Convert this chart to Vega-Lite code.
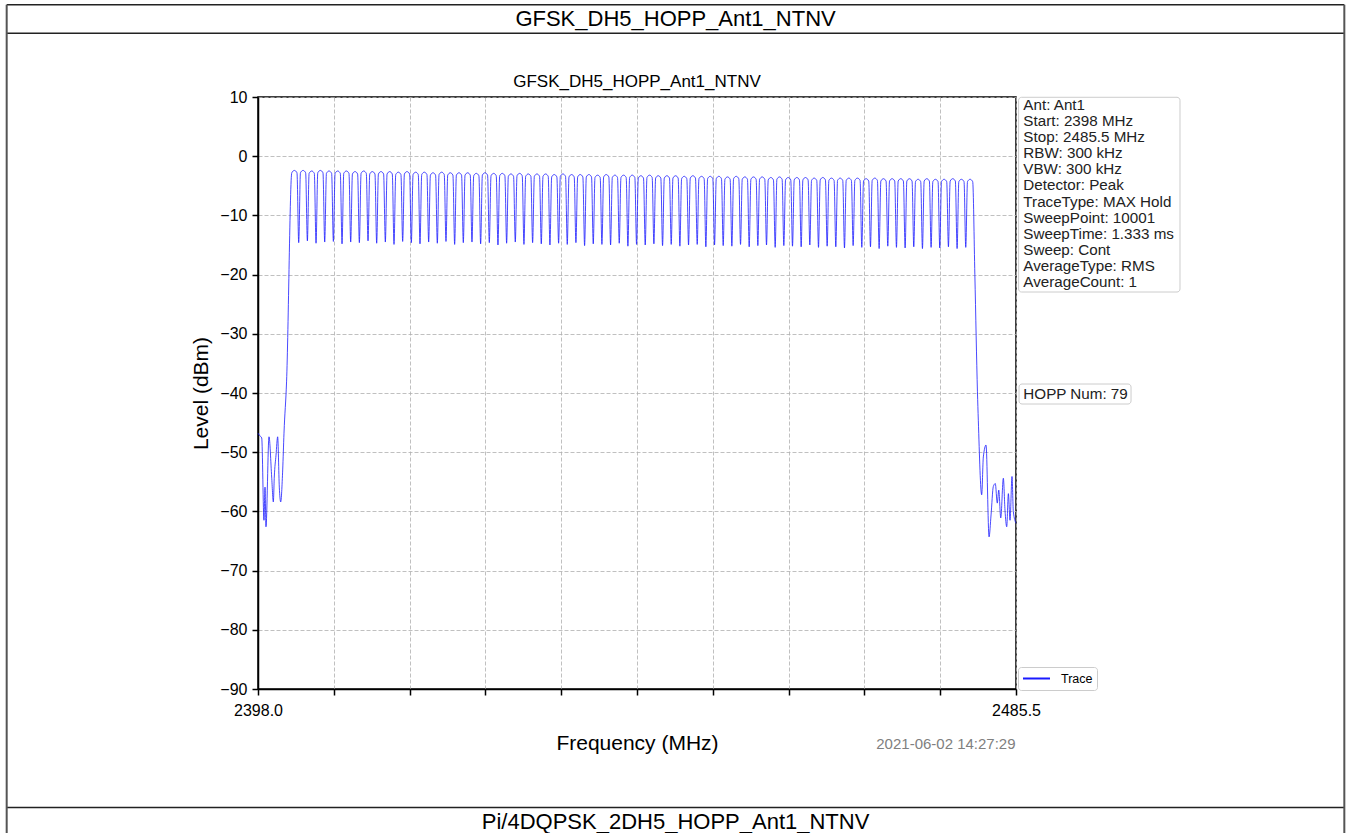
{
  "$schema": "https://vega.github.io/schema/vega-lite/v6.json",
  "autosize": {"type": "none"},
  "padding": {"left": 258, "top": 97, "right": 332, "bottom": 144},
  "width": 758,
  "height": 592,
  "background": "#ffffff",
  "config": {
    "font": "Liberation Sans",
    "view": {"stroke": "#000000", "strokeWidth": 1.5},
    "axis": {
      "domainColor": "#000000", "domainWidth": 1.5,
      "tickColor": "#000000", "tickWidth": 1.5, "tickSize": 6,
      "labelFont": "Liberation Sans", "labelFontSize": 16, "labelColor": "#000000",
      "titleFont": "Liberation Sans", "titleFontSize": 21, "titleFontWeight": "normal", "titleColor": "#000000",
      "gridColor": "#b0b0b0", "gridDash": [4, 2], "gridWidth": 0.8, "gridOpacity": 1
    },
    "legend": {
      "orient": "none", "legendX": 760, "legendY": 570,
      "labelFont": "Liberation Sans", "labelFontSize": 12.5, "labelColor": "#000000", "labelOffset": 10,
      "symbolType": "stroke", "symbolSize": 729, "symbolStrokeWidth": 1.8, "clipHeight": 15,
      "padding": 4, "strokeColor": "#cccccc", "fillColor": "#ffffff", "cornerRadius": 3
    }
  },
  "datasets": {
    "trace": [
      {"f":2398.0,"v":-46.8},{"f":2398.2,"v":-47.2},{"f":2398.43,"v":-47.6},{"f":2398.69,"v":-61.5},{"f":2398.81,"v":-55.9},{"f":2398.92,"v":-62.6},{"f":2399.27,"v":-47.4},{"f":2399.58,"v":-54.2},{"f":2399.77,"v":-58.4},{"f":2399.88,"v":-54.2},{"f":2400.08,"v":-50.5},{"f":2400.27,"v":-47.4},{"f":2400.46,"v":-55.9},{"f":2400.62,"v":-58.4},{"f":2400.85,"v":-53.0},{"f":2401.0,"v":-46.8},{"f":2401.3,"v":-38.0},
      {"f":2401.9,"v":-2.8},{"f":2402.2,"v":-2.4},{"f":2402.5,"v":-2.8},{"f":2402.7,"v":-14.6},
      {"f":2402.9,"v":-2.8},{"f":2403.2,"v":-2.4},{"f":2403.5,"v":-2.8},{"f":2403.7,"v":-14.3},
      {"f":2403.9,"v":-2.9},{"f":2404.2,"v":-2.5},{"f":2404.5,"v":-2.9},{"f":2404.7,"v":-14.7},
      {"f":2404.9,"v":-2.8},{"f":2405.2,"v":-2.4},{"f":2405.5,"v":-2.8},{"f":2405.7,"v":-14.5},
      {"f":2405.9,"v":-2.9},{"f":2406.2,"v":-2.5},{"f":2406.5,"v":-2.9},{"f":2406.7,"v":-14.4},
      {"f":2406.9,"v":-2.9},{"f":2407.2,"v":-2.5},{"f":2407.5,"v":-2.9},{"f":2407.7,"v":-14.8},
      {"f":2407.9,"v":-2.9},{"f":2408.2,"v":-2.5},{"f":2408.5,"v":-2.9},{"f":2408.7,"v":-14.5},
      {"f":2408.9,"v":-3.0},{"f":2409.2,"v":-2.6},{"f":2409.5,"v":-3.0},{"f":2409.7,"v":-14.6},
      {"f":2409.9,"v":-2.9},{"f":2410.2,"v":-2.5},{"f":2410.5,"v":-2.9},{"f":2410.7,"v":-14.3},
      {"f":2410.9,"v":-3.0},{"f":2411.2,"v":-2.6},{"f":2411.5,"v":-3.0},{"f":2411.7,"v":-14.7},
      {"f":2411.9,"v":-3.0},{"f":2412.2,"v":-2.6},{"f":2412.5,"v":-3.0},{"f":2412.7,"v":-14.5},
      {"f":2412.9,"v":-3.0},{"f":2413.2,"v":-2.6},{"f":2413.5,"v":-3.0},{"f":2413.7,"v":-14.9},
      {"f":2413.9,"v":-3.1},{"f":2414.2,"v":-2.7},{"f":2414.5,"v":-3.1},{"f":2414.7,"v":-14.4},
      {"f":2414.9,"v":-3.0},{"f":2415.2,"v":-2.6},{"f":2415.5,"v":-3.0},{"f":2415.7,"v":-14.6},
      {"f":2415.9,"v":-3.1},{"f":2416.2,"v":-2.7},{"f":2416.5,"v":-3.1},{"f":2416.7,"v":-14.8},
      {"f":2416.9,"v":-3.1},{"f":2417.2,"v":-2.7},{"f":2417.5,"v":-3.1},{"f":2417.7,"v":-14.5},
      {"f":2417.9,"v":-3.2},{"f":2418.2,"v":-2.8},{"f":2418.5,"v":-3.2},{"f":2418.7,"v":-14.7},
      {"f":2418.9,"v":-3.1},{"f":2419.2,"v":-2.7},{"f":2419.5,"v":-3.1},{"f":2419.7,"v":-14.4},
      {"f":2419.9,"v":-3.2},{"f":2420.2,"v":-2.8},{"f":2420.5,"v":-3.2},{"f":2420.7,"v":-14.9},
      {"f":2420.9,"v":-3.2},{"f":2421.2,"v":-2.8},{"f":2421.5,"v":-3.2},{"f":2421.7,"v":-14.6},
      {"f":2421.9,"v":-3.2},{"f":2422.2,"v":-2.8},{"f":2422.5,"v":-3.2},{"f":2422.7,"v":-14.5},
      {"f":2422.9,"v":-3.3},{"f":2423.2,"v":-2.9},{"f":2423.5,"v":-3.3},{"f":2423.7,"v":-14.8},
      {"f":2423.9,"v":-3.2},{"f":2424.2,"v":-2.8},{"f":2424.5,"v":-3.2},{"f":2424.7,"v":-14.6},
      {"f":2424.9,"v":-3.3},{"f":2425.2,"v":-2.9},{"f":2425.5,"v":-3.3},{"f":2425.7,"v":-15.0},
      {"f":2425.9,"v":-3.3},{"f":2426.2,"v":-2.9},{"f":2426.5,"v":-3.3},{"f":2426.7,"v":-14.7},
      {"f":2426.9,"v":-3.4},{"f":2427.2,"v":-3.0},{"f":2427.5,"v":-3.4},{"f":2427.7,"v":-14.5},
      {"f":2427.9,"v":-3.3},{"f":2428.2,"v":-2.9},{"f":2428.5,"v":-3.3},{"f":2428.7,"v":-14.9},
      {"f":2428.9,"v":-3.4},{"f":2429.2,"v":-3.0},{"f":2429.5,"v":-3.4},{"f":2429.7,"v":-14.6},
      {"f":2429.9,"v":-3.4},{"f":2430.2,"v":-3.0},{"f":2430.5,"v":-3.4},{"f":2430.7,"v":-14.8},
      {"f":2430.9,"v":-3.4},{"f":2431.2,"v":-3.0},{"f":2431.5,"v":-3.4},{"f":2431.7,"v":-15.0},
      {"f":2431.9,"v":-3.5},{"f":2432.2,"v":-3.1},{"f":2432.5,"v":-3.5},{"f":2432.7,"v":-14.7},
      {"f":2432.9,"v":-3.4},{"f":2433.2,"v":-3.0},{"f":2433.5,"v":-3.4},{"f":2433.7,"v":-14.9},
      {"f":2433.9,"v":-3.5},{"f":2434.2,"v":-3.1},{"f":2434.5,"v":-3.5},{"f":2434.7,"v":-14.6},
      {"f":2434.9,"v":-3.5},{"f":2435.2,"v":-3.1},{"f":2435.5,"v":-3.5},{"f":2435.7,"v":-15.1},
      {"f":2435.9,"v":-3.5},{"f":2436.2,"v":-3.1},{"f":2436.5,"v":-3.5},{"f":2436.7,"v":-14.8},
      {"f":2436.9,"v":-3.6},{"f":2437.2,"v":-3.2},{"f":2437.5,"v":-3.6},{"f":2437.7,"v":-14.9},
      {"f":2437.9,"v":-3.5},{"f":2438.2,"v":-3.1},{"f":2438.5,"v":-3.5},{"f":2438.7,"v":-15.0},
      {"f":2438.9,"v":-3.6},{"f":2439.2,"v":-3.2},{"f":2439.5,"v":-3.6},{"f":2439.7,"v":-14.7},
      {"f":2439.9,"v":-3.6},{"f":2440.2,"v":-3.2},{"f":2440.5,"v":-3.6},{"f":2440.7,"v":-15.2},
      {"f":2440.9,"v":-3.6},{"f":2441.2,"v":-3.2},{"f":2441.5,"v":-3.6},{"f":2441.7,"v":-14.9},
      {"f":2441.9,"v":-3.7},{"f":2442.2,"v":-3.3},{"f":2442.5,"v":-3.7},{"f":2442.7,"v":-15.0},
      {"f":2442.9,"v":-3.6},{"f":2443.2,"v":-3.2},{"f":2443.5,"v":-3.6},{"f":2443.7,"v":-14.8},
      {"f":2443.9,"v":-3.7},{"f":2444.2,"v":-3.3},{"f":2444.5,"v":-3.7},{"f":2444.7,"v":-15.1},
      {"f":2444.9,"v":-3.7},{"f":2445.2,"v":-3.3},{"f":2445.5,"v":-3.7},{"f":2445.7,"v":-14.9},
      {"f":2445.9,"v":-3.7},{"f":2446.2,"v":-3.3},{"f":2446.5,"v":-3.7},{"f":2446.7,"v":-15.2},
      {"f":2446.9,"v":-3.8},{"f":2447.2,"v":-3.4},{"f":2447.5,"v":-3.8},{"f":2447.7,"v":-15.0},
      {"f":2447.9,"v":-3.7},{"f":2448.2,"v":-3.3},{"f":2448.5,"v":-3.7},{"f":2448.7,"v":-14.9},
      {"f":2448.9,"v":-3.8},{"f":2449.2,"v":-3.4},{"f":2449.5,"v":-3.8},{"f":2449.7,"v":-15.3},
      {"f":2449.9,"v":-3.8},{"f":2450.2,"v":-3.4},{"f":2450.5,"v":-3.8},{"f":2450.7,"v":-15.0},
      {"f":2450.9,"v":-3.8},{"f":2451.2,"v":-3.4},{"f":2451.5,"v":-3.8},{"f":2451.7,"v":-15.1},
      {"f":2451.9,"v":-3.9},{"f":2452.2,"v":-3.5},{"f":2452.5,"v":-3.9},{"f":2452.7,"v":-15.2},
      {"f":2452.9,"v":-3.8},{"f":2453.2,"v":-3.4},{"f":2453.5,"v":-3.8},{"f":2453.7,"v":-14.9},
      {"f":2453.9,"v":-3.9},{"f":2454.2,"v":-3.5},{"f":2454.5,"v":-3.9},{"f":2454.7,"v":-15.3},
      {"f":2454.9,"v":-3.9},{"f":2455.2,"v":-3.5},{"f":2455.5,"v":-3.9},{"f":2455.7,"v":-15.1},
      {"f":2455.9,"v":-3.9},{"f":2456.2,"v":-3.5},{"f":2456.5,"v":-3.9},{"f":2456.7,"v":-15.0},
      {"f":2456.9,"v":-4.0},{"f":2457.2,"v":-3.6},{"f":2457.5,"v":-4.0},{"f":2457.7,"v":-15.4},
      {"f":2457.9,"v":-3.9},{"f":2458.2,"v":-3.5},{"f":2458.5,"v":-3.9},{"f":2458.7,"v":-15.1},
      {"f":2458.9,"v":-4.0},{"f":2459.2,"v":-3.6},{"f":2459.5,"v":-4.0},{"f":2459.7,"v":-15.2},
      {"f":2459.9,"v":-4.0},{"f":2460.2,"v":-3.6},{"f":2460.5,"v":-4.0},{"f":2460.7,"v":-15.3},
      {"f":2460.9,"v":-4.0},{"f":2461.2,"v":-3.6},{"f":2461.5,"v":-4.0},{"f":2461.7,"v":-15.0},
      {"f":2461.9,"v":-4.1},{"f":2462.2,"v":-3.7},{"f":2462.5,"v":-4.1},{"f":2462.7,"v":-15.4},
      {"f":2462.9,"v":-4.0},{"f":2463.2,"v":-3.6},{"f":2463.5,"v":-4.0},{"f":2463.7,"v":-15.2},
      {"f":2463.9,"v":-4.1},{"f":2464.2,"v":-3.7},{"f":2464.5,"v":-4.1},{"f":2464.7,"v":-15.3},
      {"f":2464.9,"v":-4.1},{"f":2465.2,"v":-3.7},{"f":2465.5,"v":-4.1},{"f":2465.7,"v":-15.5},
      {"f":2465.9,"v":-4.1},{"f":2466.2,"v":-3.7},{"f":2466.5,"v":-4.1},{"f":2466.7,"v":-15.1},
      {"f":2466.9,"v":-4.1},{"f":2467.2,"v":-3.7},{"f":2467.5,"v":-4.1},{"f":2467.7,"v":-15.4},
      {"f":2467.9,"v":-4.2},{"f":2468.2,"v":-3.8},{"f":2468.5,"v":-4.2},{"f":2468.7,"v":-15.3},
      {"f":2468.9,"v":-4.1},{"f":2469.2,"v":-3.7},{"f":2469.5,"v":-4.1},{"f":2469.7,"v":-15.6},
      {"f":2469.9,"v":-4.2},{"f":2470.2,"v":-3.8},{"f":2470.5,"v":-4.2},{"f":2470.7,"v":-15.2},
      {"f":2470.9,"v":-4.2},{"f":2471.2,"v":-3.8},{"f":2471.5,"v":-4.2},{"f":2471.7,"v":-15.4},
      {"f":2471.9,"v":-4.2},{"f":2472.2,"v":-3.8},{"f":2472.5,"v":-4.2},{"f":2472.7,"v":-15.5},
      {"f":2472.9,"v":-4.2},{"f":2473.2,"v":-3.8},{"f":2473.5,"v":-4.2},{"f":2473.7,"v":-15.3},
      {"f":2473.9,"v":-4.3},{"f":2474.2,"v":-3.9},{"f":2474.5,"v":-4.3},{"f":2474.7,"v":-15.6},
      {"f":2474.9,"v":-4.2},{"f":2475.2,"v":-3.8},{"f":2475.5,"v":-4.2},{"f":2475.7,"v":-15.4},
      {"f":2475.9,"v":-4.3},{"f":2476.2,"v":-3.9},{"f":2476.5,"v":-4.3},{"f":2476.7,"v":-15.5},
      {"f":2476.9,"v":-4.3},{"f":2477.2,"v":-3.9},{"f":2477.5,"v":-4.3},{"f":2477.7,"v":-15.3},
      {"f":2477.9,"v":-4.2},{"f":2478.2,"v":-3.8},{"f":2478.5,"v":-4.2},{"f":2478.7,"v":-15.6},
      {"f":2478.9,"v":-4.3},{"f":2479.2,"v":-3.9},{"f":2479.5,"v":-4.3},{"f":2479.7,"v":-15.4},
      {"f":2479.9,"v":-4.3},{"f":2480.2,"v":-3.9},{"f":2480.5,"v":-4.3},
      {"f":2480.75,"v":-20.0},{"f":2481.05,"v":-39.8},{"f":2481.15,"v":-44.6},{"f":2481.54,"v":-57.2},{"f":2481.73,"v":-50.8},{"f":2482.04,"v":-48.8},{"f":2482.39,"v":-64.3},{"f":2482.62,"v":-60.6},{"f":2482.88,"v":-55.8},{"f":2483.11,"v":-55.3},{"f":2483.34,"v":-58.6},{"f":2483.51,"v":-56.4},{"f":2483.74,"v":-61.1},{"f":2484.04,"v":-54.4},{"f":2484.23,"v":-59.8},{"f":2484.43,"v":-62.6},{"f":2484.62,"v":-57.0},{"f":2484.81,"v":-61.5},{"f":2485.04,"v":-54.1},{"f":2485.19,"v":-60.0},{"f":2485.5,"v":-62.0}
    ],
    "one": [{}]
  },
  "layer": [
    {
      "data": {"name": "one"},
      "mark": {"type": "rule", "stroke": "#222222", "strokeWidth": 1.5},
      "encoding": {"x": {"datum": 2368.99}, "x2": {"datum": 2523.4}, "y": {"datum": 25.59}}
    },
    {
      "data": {"name": "one"},
      "mark": {"type": "rule", "stroke": "#222222", "strokeWidth": 1.5},
      "encoding": {"x": {"datum": 2368.99}, "x2": {"datum": 2523.4}, "y": {"datum": 20.76}}
    },
    {
      "data": {"name": "one"},
      "mark": {"type": "rule", "stroke": "#222222", "strokeWidth": 1.5},
      "encoding": {"x": {"datum": 2368.99}, "x2": {"datum": 2523.4}, "y": {"datum": -110.02}}
    },
    {
      "data": {"name": "one"},
      "mark": {"type": "rule", "stroke": "#555555", "strokeWidth": 2},
      "encoding": {"x": {"datum": 2368.99}, "y": {"datum": 25.59}, "y2": {"datum": -116}}
    },
    {
      "data": {"name": "one"},
      "mark": {"type": "rule", "stroke": "#555555", "strokeWidth": 2},
      "encoding": {"x": {"datum": 2523.4}, "y": {"datum": 25.59}, "y2": {"datum": -116}}
    },
    {
      "data": {"name": "one"},
      "mark": {"type": "text", "text": "GFSK_DH5_HOPP_Ant1_NTNV", "fontSize": 22, "font": "Liberation Sans", "color": "#000000", "align": "center", "baseline": "middle"},
      "encoding": {"x": {"datum": 2446.2}, "y": {"datum": 23.2}}
    },
    {
      "data": {"name": "one"},
      "mark": {"type": "text", "text": "Pi/4DQPSK_2DH5_HOPP_Ant1_NTNV", "fontSize": 22, "font": "Liberation Sans", "color": "#000000", "align": "center", "baseline": "middle"},
      "encoding": {"x": {"datum": 2446.2}, "y": {"datum": -112.47}}
    },
    {
      "data": {"name": "one"},
      "mark": {"type": "text", "text": "GFSK_DH5_HOPP_Ant1_NTNV", "fontSize": 17, "font": "Liberation Sans", "color": "#000000", "align": "center", "baseline": "middle"},
      "encoding": {"x": {"datum": 2441.75}, "y": {"datum": 12.53}}
    },
    {
      "data": {"name": "trace"},
      "mark": {"type": "line", "strokeWidth": 0.8, "interpolate": "monotone"},
      "encoding": {
        "x": {
          "field": "f", "type": "quantitative",
          "scale": {"domain": [2398, 2485.5], "nice": false, "zero": false},
          "axis": {
            "title": "Frequency (MHz)",
            "values": [2398, 2406.75, 2415.5, 2424.25, 2433, 2441.75, 2450.5, 2459.25, 2468, 2476.75, 2485.5],
            "labelExpr": "datum.value == 2398 || datum.value == 2485.5 ? format(datum.value, '.1f') : ''",
            "labelOverlap": false, "labelFlush": false, "labelPadding": 7, "titlePadding": 14, "grid": true
          }
        },
        "y": {
          "field": "v", "type": "quantitative",
          "scale": {"domain": [-90, 10], "nice": false, "zero": false},
          "axis": {
            "title": "Level (dBm)",
            "values": [-90, -80, -70, -60, -50, -40, -30, -20, -10, 0, 10],
            "format": "d", "labelPadding": 5, "titlePadding": 8, "grid": true
          }
        },
        "color": {"datum": "Trace", "type": "nominal", "scale": {"range": ["#1a1aff"]}, "legend": {"title": null}}
      }
    },
    {
      "data": {"name": "one"},
      "mark": {"type": "rect", "fill": "#ffffff", "stroke": "#cccccc", "strokeWidth": 1, "cornerRadius": 3},
      "encoding": {"x": {"datum": 2485.8}, "x2": {"datum": 2504.43}, "y": {"datum": 9.95}, "y2": {"datum": -22.94}}
    },
    {
      "data": {"name": "one"},
      "mark": {"type": "text", "text": ["Ant: Ant1", "Start: 2398 MHz", "Stop: 2485.5 MHz", "RBW: 300 kHz", "VBW: 300 kHz", "Detector: Peak", "TraceType: MAX Hold", "SweepPoint: 10001", "SweepTime: 1.333 ms", "Sweep: Cont", "AverageType: RMS", "AverageCount: 1"], "lineHeight": 16.1, "fontSize": 15.2, "font": "Liberation Sans", "color": "#222222", "align": "left", "baseline": "middle"},
      "encoding": {"x": {"datum": 2486.35}, "y": {"datum": 8.65}}
    },
    {
      "data": {"name": "one"},
      "mark": {"type": "rect", "fill": "#ffffff", "stroke": "#cccccc", "strokeWidth": 1, "cornerRadius": 3},
      "encoding": {"x": {"datum": 2485.85}, "x2": {"datum": 2498.78}, "y": {"datum": -38.48}, "y2": {"datum": -41.86}}
    },
    {
      "data": {"name": "one"},
      "mark": {"type": "text", "text": "HOPP Num: 79", "fontSize": 15.2, "font": "Liberation Sans", "color": "#222222", "align": "left", "baseline": "middle"},
      "encoding": {"x": {"datum": 2486.35}, "y": {"datum": -40.17}}
    },
    {
      "data": {"name": "one"},
      "mark": {"type": "text", "text": "2021-06-02 14:27:29", "fontSize": 15, "font": "Liberation Sans", "color": "#808080", "align": "right", "baseline": "middle"},
      "encoding": {"x": {"datum": 2485.45}, "y": {"datum": -99.29}}
    }
  ]
}
